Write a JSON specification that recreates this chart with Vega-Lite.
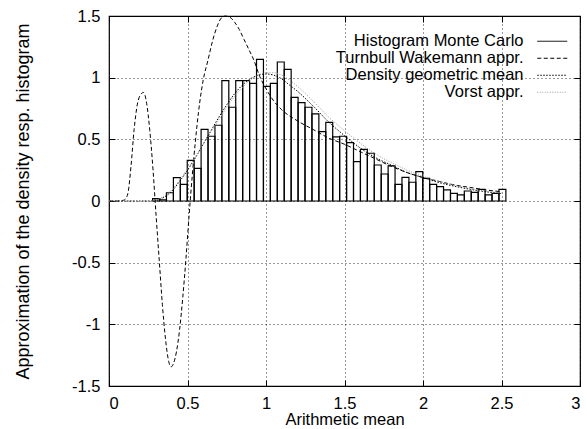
{
  "$schema": "https://vega.github.io/schema/vega-lite/v6.json",
  "width": 471,
  "height": 370,
  "autosize": "none",
  "padding": {"left": 109, "top": 16, "right": 7, "bottom": 43},
  "background": "white",
  "config": {
    "font": "Liberation Sans",
    "view": {"stroke": "#000", "strokeWidth": 1.2},
    "axis": {
      "domain": false,
      "grid": true,
      "gridColor": "#000",
      "gridDash": [1, 3],
      "gridWidth": 1,
      "gridOpacity": 0.8,
      "tickColor": "#000",
      "tickSize": -6,
      "tickWidth": 1,
      "labelColor": "#000",
      "labelFontSize": 16.5,
      "titleColor": "#000",
      "titleFontSize": 16.5,
      "titleFontWeight": "normal"
    }
  },
  "datasets": {
    "hist": [
      {"s": "Histogram Monte Carlo", "x0": 0.2778, "x1": 0.3219, "h": 0.02},
      {"s": "Histogram Monte Carlo", "x0": 0.3219, "x1": 0.3660, "h": 0.01},
      {"s": "Histogram Monte Carlo", "x0": 0.3660, "x1": 0.4102, "h": 0.067},
      {"s": "Histogram Monte Carlo", "x0": 0.4102, "x1": 0.4543, "h": 0.19},
      {"s": "Histogram Monte Carlo", "x0": 0.4543, "x1": 0.4984, "h": 0.135},
      {"s": "Histogram Monte Carlo", "x0": 0.4984, "x1": 0.5425, "h": 0.33},
      {"s": "Histogram Monte Carlo", "x0": 0.5425, "x1": 0.5866, "h": 0.265},
      {"s": "Histogram Monte Carlo", "x0": 0.5866, "x1": 0.6308, "h": 0.58},
      {"s": "Histogram Monte Carlo", "x0": 0.6308, "x1": 0.6749, "h": 0.525},
      {"s": "Histogram Monte Carlo", "x0": 0.6749, "x1": 0.7190, "h": 0.614},
      {"s": "Histogram Monte Carlo", "x0": 0.7190, "x1": 0.7631, "h": 0.976},
      {"s": "Histogram Monte Carlo", "x0": 0.7631, "x1": 0.8072, "h": 0.76},
      {"s": "Histogram Monte Carlo", "x0": 0.8072, "x1": 0.8514, "h": 0.976},
      {"s": "Histogram Monte Carlo", "x0": 0.8514, "x1": 0.8955, "h": 0.976},
      {"s": "Histogram Monte Carlo", "x0": 0.8955, "x1": 0.9396, "h": 0.954},
      {"s": "Histogram Monte Carlo", "x0": 0.9396, "x1": 0.9837, "h": 1.149},
      {"s": "Histogram Monte Carlo", "x0": 0.9837, "x1": 1.0278, "h": 0.93},
      {"s": "Histogram Monte Carlo", "x0": 1.0278, "x1": 1.0720, "h": 0.954},
      {"s": "Histogram Monte Carlo", "x0": 1.0720, "x1": 1.1161, "h": 1.127},
      {"s": "Histogram Monte Carlo", "x0": 1.1161, "x1": 1.1602, "h": 1.068},
      {"s": "Histogram Monte Carlo", "x0": 1.1602, "x1": 1.2043, "h": 0.84},
      {"s": "Histogram Monte Carlo", "x0": 1.2043, "x1": 1.2484, "h": 0.797},
      {"s": "Histogram Monte Carlo", "x0": 1.2484, "x1": 1.2926, "h": 0.76},
      {"s": "Histogram Monte Carlo", "x0": 1.2926, "x1": 1.3367, "h": 0.706},
      {"s": "Histogram Monte Carlo", "x0": 1.3367, "x1": 1.3808, "h": 0.562},
      {"s": "Histogram Monte Carlo", "x0": 1.3808, "x1": 1.4249, "h": 0.638},
      {"s": "Histogram Monte Carlo", "x0": 1.4249, "x1": 1.4690, "h": 0.52},
      {"s": "Histogram Monte Carlo", "x0": 1.4690, "x1": 1.5132, "h": 0.525},
      {"s": "Histogram Monte Carlo", "x0": 1.5132, "x1": 1.5573, "h": 0.473},
      {"s": "Histogram Monte Carlo", "x0": 1.5573, "x1": 1.6014, "h": 0.319},
      {"s": "Histogram Monte Carlo", "x0": 1.6014, "x1": 1.6455, "h": 0.419},
      {"s": "Histogram Monte Carlo", "x0": 1.6455, "x1": 1.6896, "h": 0.387},
      {"s": "Histogram Monte Carlo", "x0": 1.6896, "x1": 1.7338, "h": 0.292},
      {"s": "Histogram Monte Carlo", "x0": 1.7338, "x1": 1.7779, "h": 0.219},
      {"s": "Histogram Monte Carlo", "x0": 1.7779, "x1": 1.8220, "h": 0.284},
      {"s": "Histogram Monte Carlo", "x0": 1.8220, "x1": 1.8661, "h": 0.135},
      {"s": "Histogram Monte Carlo", "x0": 1.8661, "x1": 1.9102, "h": 0.192},
      {"s": "Histogram Monte Carlo", "x0": 1.9102, "x1": 1.9544, "h": 0.152},
      {"s": "Histogram Monte Carlo", "x0": 1.9544, "x1": 1.9985, "h": 0.238},
      {"s": "Histogram Monte Carlo", "x0": 1.9985, "x1": 2.0426, "h": 0.184},
      {"s": "Histogram Monte Carlo", "x0": 2.0426, "x1": 2.0867, "h": 0.135},
      {"s": "Histogram Monte Carlo", "x0": 2.0867, "x1": 2.1308, "h": 0.116},
      {"s": "Histogram Monte Carlo", "x0": 2.1308, "x1": 2.1750, "h": 0.09},
      {"s": "Histogram Monte Carlo", "x0": 2.1750, "x1": 2.2191, "h": 0.062},
      {"s": "Histogram Monte Carlo", "x0": 2.2191, "x1": 2.2632, "h": 0.049},
      {"s": "Histogram Monte Carlo", "x0": 2.2632, "x1": 2.3073, "h": 0.081},
      {"s": "Histogram Monte Carlo", "x0": 2.3073, "x1": 2.3514, "h": 0.07},
      {"s": "Histogram Monte Carlo", "x0": 2.3514, "x1": 2.3956, "h": 0.095},
      {"s": "Histogram Monte Carlo", "x0": 2.3956, "x1": 2.4397, "h": 0.049},
      {"s": "Histogram Monte Carlo", "x0": 2.4397, "x1": 2.4838, "h": 0.062},
      {"s": "Histogram Monte Carlo", "x0": 2.4838, "x1": 2.5279, "h": 0.095}
    ],
    "curves": [
      {"s": "Turnbull Wakemann appr.", "x": 0, "y": 0},
      {"s": "Turnbull Wakemann appr.", "x": 0.06, "y": 0},
      {"s": "Turnbull Wakemann appr.", "x": 0.08, "y": 0.003},
      {"s": "Turnbull Wakemann appr.", "x": 0.1, "y": 0.01},
      {"s": "Turnbull Wakemann appr.", "x": 0.12, "y": 0.06},
      {"s": "Turnbull Wakemann appr.", "x": 0.14, "y": 0.28},
      {"s": "Turnbull Wakemann appr.", "x": 0.16, "y": 0.58},
      {"s": "Turnbull Wakemann appr.", "x": 0.18, "y": 0.78},
      {"s": "Turnbull Wakemann appr.", "x": 0.2, "y": 0.86},
      {"s": "Turnbull Wakemann appr.", "x": 0.22, "y": 0.88},
      {"s": "Turnbull Wakemann appr.", "x": 0.24, "y": 0.79},
      {"s": "Turnbull Wakemann appr.", "x": 0.26, "y": 0.57},
      {"s": "Turnbull Wakemann appr.", "x": 0.28, "y": 0.26},
      {"s": "Turnbull Wakemann appr.", "x": 0.3, "y": -0.12},
      {"s": "Turnbull Wakemann appr.", "x": 0.32, "y": -0.48},
      {"s": "Turnbull Wakemann appr.", "x": 0.34, "y": -0.84},
      {"s": "Turnbull Wakemann appr.", "x": 0.36, "y": -1.12},
      {"s": "Turnbull Wakemann appr.", "x": 0.38, "y": -1.3},
      {"s": "Turnbull Wakemann appr.", "x": 0.395, "y": -1.345},
      {"s": "Turnbull Wakemann appr.", "x": 0.41, "y": -1.32},
      {"s": "Turnbull Wakemann appr.", "x": 0.43, "y": -1.22},
      {"s": "Turnbull Wakemann appr.", "x": 0.45, "y": -1.04},
      {"s": "Turnbull Wakemann appr.", "x": 0.47, "y": -0.78},
      {"s": "Turnbull Wakemann appr.", "x": 0.49, "y": -0.47},
      {"s": "Turnbull Wakemann appr.", "x": 0.51, "y": -0.12},
      {"s": "Turnbull Wakemann appr.", "x": 0.53, "y": 0.2},
      {"s": "Turnbull Wakemann appr.", "x": 0.55, "y": 0.48},
      {"s": "Turnbull Wakemann appr.", "x": 0.57, "y": 0.72},
      {"s": "Turnbull Wakemann appr.", "x": 0.6, "y": 0.98},
      {"s": "Turnbull Wakemann appr.", "x": 0.63, "y": 1.14},
      {"s": "Turnbull Wakemann appr.", "x": 0.66, "y": 1.3},
      {"s": "Turnbull Wakemann appr.", "x": 0.69, "y": 1.42},
      {"s": "Turnbull Wakemann appr.", "x": 0.72, "y": 1.49},
      {"s": "Turnbull Wakemann appr.", "x": 0.74, "y": 1.5},
      {"s": "Turnbull Wakemann appr.", "x": 0.77, "y": 1.49},
      {"s": "Turnbull Wakemann appr.", "x": 0.8, "y": 1.45},
      {"s": "Turnbull Wakemann appr.", "x": 0.83, "y": 1.39},
      {"s": "Turnbull Wakemann appr.", "x": 0.86, "y": 1.31},
      {"s": "Turnbull Wakemann appr.", "x": 0.89, "y": 1.23},
      {"s": "Turnbull Wakemann appr.", "x": 0.92, "y": 1.15},
      {"s": "Turnbull Wakemann appr.", "x": 0.96, "y": 1.01},
      {"s": "Turnbull Wakemann appr.", "x": 1.0, "y": 0.91},
      {"s": "Turnbull Wakemann appr.", "x": 1.05, "y": 0.81},
      {"s": "Turnbull Wakemann appr.", "x": 1.1, "y": 0.74},
      {"s": "Turnbull Wakemann appr.", "x": 1.2, "y": 0.65},
      {"s": "Turnbull Wakemann appr.", "x": 1.3, "y": 0.58},
      {"s": "Turnbull Wakemann appr.", "x": 1.4, "y": 0.51},
      {"s": "Turnbull Wakemann appr.", "x": 1.5, "y": 0.46},
      {"s": "Turnbull Wakemann appr.", "x": 1.6, "y": 0.4},
      {"s": "Turnbull Wakemann appr.", "x": 1.7, "y": 0.34},
      {"s": "Turnbull Wakemann appr.", "x": 1.8, "y": 0.28},
      {"s": "Turnbull Wakemann appr.", "x": 1.9, "y": 0.23},
      {"s": "Turnbull Wakemann appr.", "x": 2.0, "y": 0.19},
      {"s": "Turnbull Wakemann appr.", "x": 2.1, "y": 0.16},
      {"s": "Turnbull Wakemann appr.", "x": 2.2, "y": 0.13},
      {"s": "Turnbull Wakemann appr.", "x": 2.3, "y": 0.11},
      {"s": "Turnbull Wakemann appr.", "x": 2.4, "y": 0.09},
      {"s": "Turnbull Wakemann appr.", "x": 2.5, "y": 0.075},
      {"s": "Density geometric mean", "x": 0, "y": 0},
      {"s": "Density geometric mean", "x": 0.25, "y": 0},
      {"s": "Density geometric mean", "x": 0.3, "y": 0.005},
      {"s": "Density geometric mean", "x": 0.35, "y": 0.03},
      {"s": "Density geometric mean", "x": 0.4, "y": 0.08},
      {"s": "Density geometric mean", "x": 0.45, "y": 0.16},
      {"s": "Density geometric mean", "x": 0.5, "y": 0.25},
      {"s": "Density geometric mean", "x": 0.55, "y": 0.35},
      {"s": "Density geometric mean", "x": 0.6, "y": 0.46},
      {"s": "Density geometric mean", "x": 0.65, "y": 0.57},
      {"s": "Density geometric mean", "x": 0.7, "y": 0.68},
      {"s": "Density geometric mean", "x": 0.75, "y": 0.78},
      {"s": "Density geometric mean", "x": 0.8, "y": 0.87},
      {"s": "Density geometric mean", "x": 0.85, "y": 0.94},
      {"s": "Density geometric mean", "x": 0.9, "y": 0.99},
      {"s": "Density geometric mean", "x": 0.95, "y": 1.02},
      {"s": "Density geometric mean", "x": 1.0, "y": 1.03},
      {"s": "Density geometric mean", "x": 1.05, "y": 1.02},
      {"s": "Density geometric mean", "x": 1.1, "y": 0.99},
      {"s": "Density geometric mean", "x": 1.15, "y": 0.94},
      {"s": "Density geometric mean", "x": 1.2, "y": 0.89},
      {"s": "Density geometric mean", "x": 1.3, "y": 0.77},
      {"s": "Density geometric mean", "x": 1.4, "y": 0.64},
      {"s": "Density geometric mean", "x": 1.5, "y": 0.53},
      {"s": "Density geometric mean", "x": 1.6, "y": 0.43},
      {"s": "Density geometric mean", "x": 1.7, "y": 0.35},
      {"s": "Density geometric mean", "x": 1.8, "y": 0.29},
      {"s": "Density geometric mean", "x": 1.9, "y": 0.23},
      {"s": "Density geometric mean", "x": 2.0, "y": 0.19},
      {"s": "Density geometric mean", "x": 2.1, "y": 0.15},
      {"s": "Density geometric mean", "x": 2.2, "y": 0.12},
      {"s": "Density geometric mean", "x": 2.3, "y": 0.095},
      {"s": "Density geometric mean", "x": 2.4, "y": 0.075},
      {"s": "Density geometric mean", "x": 2.5, "y": 0.06},
      {"s": "Vorst appr.", "x": 0, "y": 0},
      {"s": "Vorst appr.", "x": 0.25, "y": 0},
      {"s": "Vorst appr.", "x": 0.3, "y": 0.01},
      {"s": "Vorst appr.", "x": 0.35, "y": 0.04},
      {"s": "Vorst appr.", "x": 0.4, "y": 0.09},
      {"s": "Vorst appr.", "x": 0.45, "y": 0.17},
      {"s": "Vorst appr.", "x": 0.5, "y": 0.26},
      {"s": "Vorst appr.", "x": 0.55, "y": 0.36},
      {"s": "Vorst appr.", "x": 0.6, "y": 0.46},
      {"s": "Vorst appr.", "x": 0.65, "y": 0.56},
      {"s": "Vorst appr.", "x": 0.7, "y": 0.66},
      {"s": "Vorst appr.", "x": 0.75, "y": 0.76},
      {"s": "Vorst appr.", "x": 0.8, "y": 0.85},
      {"s": "Vorst appr.", "x": 0.85, "y": 0.92},
      {"s": "Vorst appr.", "x": 0.9, "y": 0.98},
      {"s": "Vorst appr.", "x": 0.95, "y": 1.02},
      {"s": "Vorst appr.", "x": 1.0, "y": 1.04},
      {"s": "Vorst appr.", "x": 1.05, "y": 1.04},
      {"s": "Vorst appr.", "x": 1.1, "y": 1.02},
      {"s": "Vorst appr.", "x": 1.15, "y": 0.98},
      {"s": "Vorst appr.", "x": 1.2, "y": 0.93},
      {"s": "Vorst appr.", "x": 1.3, "y": 0.81},
      {"s": "Vorst appr.", "x": 1.4, "y": 0.68},
      {"s": "Vorst appr.", "x": 1.5, "y": 0.57},
      {"s": "Vorst appr.", "x": 1.6, "y": 0.47},
      {"s": "Vorst appr.", "x": 1.7, "y": 0.38},
      {"s": "Vorst appr.", "x": 1.8, "y": 0.31},
      {"s": "Vorst appr.", "x": 1.9, "y": 0.25},
      {"s": "Vorst appr.", "x": 2.0, "y": 0.2},
      {"s": "Vorst appr.", "x": 2.1, "y": 0.16},
      {"s": "Vorst appr.", "x": 2.2, "y": 0.13},
      {"s": "Vorst appr.", "x": 2.3, "y": 0.1},
      {"s": "Vorst appr.", "x": 2.4, "y": 0.08},
      {"s": "Vorst appr.", "x": 2.5, "y": 0.065}
    ]
  },
  "layer": [
    {
      "data": {"name": "hist"},
      "mark": {"type": "bar", "fill": "#fff", "fillOpacity": 0, "strokeWidth": 1.2},
      "encoding": {
        "x": {
          "field": "x0", "type": "quantitative",
          "scale": {"domain": [0, 3], "nice": false, "zero": false},
          "axis": {"orient": "bottom", "values": [0, 0.5, 1, 1.5, 2, 2.5, 3], "labelExpr": "'' + datum.value", "labelPadding": 15, "title": "Arithmetic mean", "titlePadding": 0}
        },
        "x2": {"field": "x1"},
        "y": {
          "field": "h", "type": "quantitative",
          "scale": {"domain": [-1.5, 1.5], "nice": false, "zero": false},
          "axis": {"orient": "left", "values": [-1.5, -1, -0.5, 0, 0.5, 1, 1.5], "labelExpr": "'' + datum.value", "labelPadding": 15, "title": "Approximation of the density resp. histogram", "titlePadding": 39, "titleFontSize": 18}
        },
        "y2": {"datum": 0},
        "stroke": {
          "field": "s", "type": "nominal",
          "scale": {
            "domain": ["Histogram Monte Carlo", "Turnbull Wakemann appr.", "Density geometric mean", "Vorst appr."],
            "range": ["#000", "#000", "#000", "#999"]
          },
          "legend": {
            "orient": "none", "legendX": 435, "legendY": 17, "title": null, "padding": 0,
            "symbolType": "M-3,0H3", "symbolSize": 100, "symbolStrokeWidth": 1, "symbolFillColor": "transparent",
            "labelAlign": "right", "labelOffset": -37, "labelFontSize": 16.5, "labelColor": "#000",
            "labelLimit": 400, "rowPadding": -1.1
          }
        },
        "strokeDash": {
          "field": "s", "type": "nominal",
          "scale": {
            "domain": ["Histogram Monte Carlo", "Turnbull Wakemann appr.", "Density geometric mean", "Vorst appr."],
            "range": [[1, 0], [4, 2.5], [1.5, 1.5], [1, 1.5]]
          },
          "legend": {
            "orient": "none", "legendX": 435, "legendY": 17, "title": null, "padding": 0,
            "symbolType": "M-3,0H3", "symbolSize": 100, "symbolStrokeWidth": 1, "symbolFillColor": "transparent",
            "labelAlign": "right", "labelOffset": -37, "labelFontSize": 16.5, "labelColor": "#000",
            "labelLimit": 400, "rowPadding": -1.1
          }
        }
      }
    },
    {
      "data": {"name": "curves"},
      "mark": {"type": "line", "strokeWidth": 1, "interpolate": "monotone"},
      "encoding": {
        "x": {"field": "x", "type": "quantitative", "axis": {"orient": "top", "values": [0, 0.5, 1, 1.5, 2, 2.5, 3], "labels": false, "grid": false, "title": null}},
        "y": {"field": "y", "type": "quantitative", "axis": {"orient": "right", "values": [-1.5, -1, -0.5, 0, 0.5, 1, 1.5], "labels": false, "grid": false, "title": null}},
        "stroke": {"field": "s", "type": "nominal"},
        "strokeDash": {"field": "s", "type": "nominal"}
      }
    }
  ]
}
